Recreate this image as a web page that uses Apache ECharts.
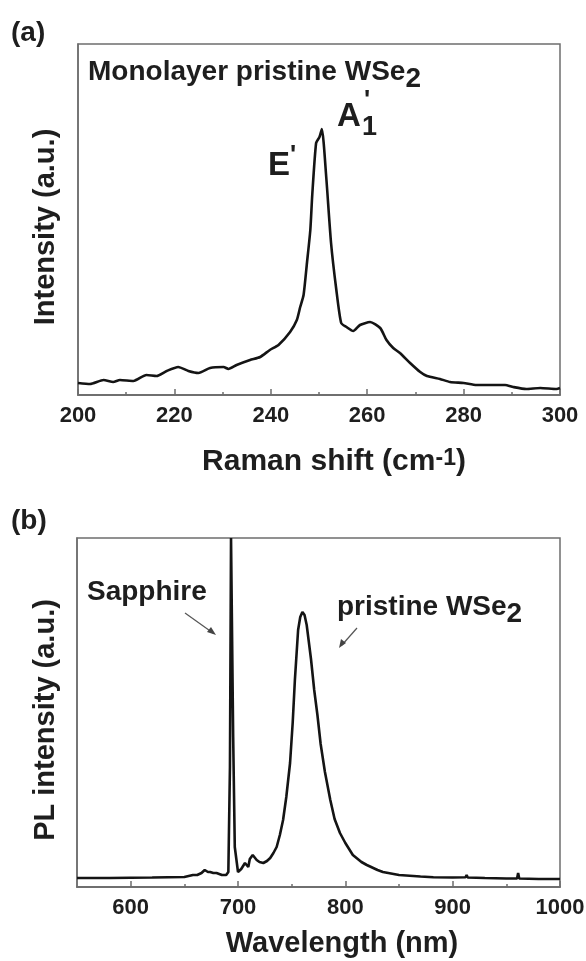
<!DOCTYPE html>
<html>
<head>
<meta charset="utf-8">
<script src="https://cdn.jsdelivr.net/npm/echarts@6/dist/echarts.min.js"></script>
<style>
html,body{margin:0;padding:0;background:#fff;}
#chart{width:586px;height:961px;}
</style>
</head>
<body>
<div id="chart"></div>
<script>
// ---- Panel (a): Raman spectrum ----
const ramanShift = [200,202.5,205.3,207.3,208.7,211.5,214.2,216.3,218.4,220.8,222.9,225,227.4,230.2,231.2,232.9,235.7,237.8,239.8,241.6,244,245.4,246.1,246.8,247.5,248.2,248.6,249.4,250.1,250.6,251.5,252.5,253.6,254.6,255.7,257.1,258.5,260.6,262.7,264,265.4,266.8,268.9,271,272.4,275.1,277.2,280,282.7,285.5,288.6,290.3,293,295.9,299.3,300];
const ramanIntensity = [12,11,15,13,15,14,20,19,24,28,24,22,27,28,26,30,35,38,45,50,63,75,88,100,132,165,200,252,258,266,218,152,105,72,68,64,70,73,67,55,47,42,32,23,19,16,13,12,10,10,10,8,6,7,6,7];
const ramanTicks = [200,220,240,260,280,300];
const ramanMinorTicks = [210,230,250,270,290];

// ---- Panel (b): PL spectrum ----
const wavelength = [550,580,620,650,658,662,666,669,672,674,677,680,685,689,691,692.5,693.5,694.5,695.5,697,700,703,706.5,708,709.6,711,713.7,715.5,717.4,720,723.6,727,730,733,736,739,742,745,748.5,751,753,756,758,760,762,764,766,768,771,774,777,781,786,790,795,800,807,815,820,830,835,850,870,882,900,912,913,914,930,950,960,961,962,980,1000];
const plIntensity = [9,9,9.5,10,12,12,14,17,15,15,14,14,12,12,15,120,349,349,150,40,15,18,24,22,20,28,32,30,27,25,24,26,29,34,40,52,67,90,124,165,207,257,270,275,272,262,245,228,197,172,143,115,87,68,54,44,32,25,22,17,15,12,10.5,9.7,9.5,9.7,12,9.5,9,8.5,8.5,14,8.5,8,8];
const plTicks = [600,700,800,900,1000];
const plMinorTicks = [650,750,850,950];

const FONT = 'Liberation Sans';
const TXT = '#1e1e1e';
const AX = '#6e6e6e';

function zip(a,b){return a.map((v,i)=>[v,b[i]]);}

function xAxisBase(gridIndex,min,max,major,minor,showLabels,tickLen){
  return {
    type:'value', gridIndex, min, max, position:'bottom',
    axisLine:{show:true,lineStyle:{color:AX,width:1.5}},
    axisTick:{show:true,inside:true,length:tickLen,customValues: showLabels?major:minor,lineStyle:{color:AX,width:1.5}},
    axisLabel:{show:showLabels,customValues:major,margin:10,fontFamily:FONT,fontWeight:'bold',fontSize:22,color:TXT,
      formatter:function(v){return String(v);}},
    splitLine:{show:false}
  };
}
function yAxisBase(gridIndex,max){
  return {type:'value',gridIndex,min:0,max,position:'left',
    axisLine:{show:true,lineStyle:{color:AX,width:1.5}},
    axisTick:{show:false},axisLabel:{show:false},splitLine:{show:false}};
}

const chart = echarts.init(document.getElementById('chart'),null,{renderer:'canvas'});

const option = {
  backgroundColor:'#fff',
  animation:false,
  grid:[
    {left:78,right:26,top:44,bottom:566,show:true,borderColor:AX,borderWidth:1.5,containLabel:false,outerBoundsMode:'none'},
    {left:77,right:26,top:538,bottom:74,show:true,borderColor:AX,borderWidth:1.5,containLabel:false,outerBoundsMode:'none'}
  ],
  xAxis:[
    xAxisBase(0,200,300,ramanTicks,ramanMinorTicks,true,6),
    xAxisBase(0,200,300,ramanTicks,ramanMinorTicks,false,3),
    xAxisBase(1,550,1000,plTicks,plMinorTicks,true,6),
    xAxisBase(1,550,1000,plTicks,plMinorTicks,false,3)
  ],
  yAxis:[yAxisBase(0,351),yAxisBase(1,349)],
  series:[
    {type:'line',xAxisIndex:0,yAxisIndex:0,data:zip(ramanShift,ramanIntensity),showSymbol:false,smooth:0.2,
     lineStyle:{color:'#141414',width:2.6}},
    {type:'line',xAxisIndex:2,yAxisIndex:1,data:zip(wavelength,plIntensity),showSymbol:false,smooth:false,
     lineStyle:{color:'#141414',width:2.6}}
  ],
  graphic:[
    {type:'text',x:11,y:33,style:{text:'(a)',font:'bold 28px '+FONT,fill:TXT,verticalAlign:'middle'}},
    {type:'text',x:11,y:521,style:{text:'(b)',font:'bold 28px '+FONT,fill:TXT,verticalAlign:'middle'}},
    {type:'text',x:88,y:72,style:{text:'Monolayer pristine WSe{s|2}',font:'bold 28px '+FONT,fill:TXT,verticalAlign:'middle',
      rich:{s:{font:'bold 28px '+FONT,fill:TXT,padding:[14,0,0,0]}}}},
    {type:'text',x:268,y:166,style:{text:'E',font:'bold 33px '+FONT,fill:TXT,verticalAlign:'middle'}},
    {type:'text',x:290,y:156,style:{text:"'",font:'bold 26px '+FONT,fill:TXT,verticalAlign:'middle'}},
    {type:'text',x:337,y:117,style:{text:'A',font:'bold 33px '+FONT,fill:TXT,verticalAlign:'middle'}},
    {type:'text',x:362,y:128,style:{text:'1',font:'bold 27px '+FONT,fill:TXT,verticalAlign:'middle'}},
    {type:'text',x:364,y:101,style:{text:"'",font:'bold 26px '+FONT,fill:TXT,verticalAlign:'middle'}},
    {type:'text',x:46,y:227,rotation:Math.PI/2,style:{text:'Intensity (a.u.)',font:'bold 29px '+FONT,fill:TXT,align:'center',verticalAlign:'middle'}},
    {type:'text',x:334,y:462,style:{text:'Raman shift (cm{p|-1})',font:'bold 30px '+FONT,fill:TXT,align:'center',verticalAlign:'middle',
      rich:{p:{font:'bold 23px '+FONT,fill:TXT,verticalAlign:'top'}}}},
    {type:'text',x:87,y:592,style:{text:'Sapphire',font:'bold 28px '+FONT,fill:TXT,verticalAlign:'middle'}},
    {type:'text',x:337,y:607,style:{text:'pristine WSe{s|2}',font:'bold 28px '+FONT,fill:TXT,verticalAlign:'middle',
      rich:{s:{font:'bold 28px '+FONT,fill:TXT,padding:[14,0,0,0]}}}},
    {type:'line',shape:{x1:185,y1:613,x2:213,y2:633},style:{stroke:'#555',lineWidth:1.2}},
    {type:'polygon',shape:{points:[[216,635],[207,632],[211,627]]},style:{fill:'#444'}},
    {type:'line',shape:{x1:357,y1:628,x2:342,y2:645},style:{stroke:'#555',lineWidth:1.2}},
    {type:'polygon',shape:{points:[[339,648],[341,639],[346,643]]},style:{fill:'#444'}},
    {type:'text',x:46,y:720,rotation:Math.PI/2,style:{text:'PL intensity (a.u.)',font:'bold 29px '+FONT,fill:TXT,align:'center',verticalAlign:'middle'}},
    {type:'text',x:342,y:944,style:{text:'Wavelength (nm)',font:'bold 29px '+FONT,fill:TXT,align:'center',verticalAlign:'middle'}}
  ]
};
chart.setOption(option);
</script>
</body>
</html>
